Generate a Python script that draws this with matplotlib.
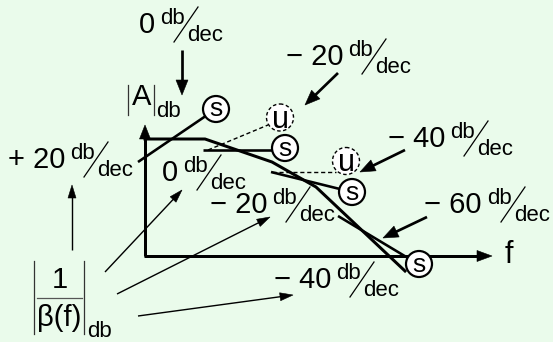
import matplotlib
matplotlib.use("Agg")
import matplotlib.pyplot as plt
from matplotlib.patches import Circle, Polygon
import numpy as np

W, H = 553, 342
BG = "#eafbeb"
FONT = "Liberation Sans"

# ---- diagram geometry (pixel space, y grows downward) ----
axis_origin = (145, 256)
y_axis_tip = (145, 125)
x_axis_tip = (492, 256)

# open-loop gain |A| asymptotes: 0, -20, -40, -60 dB/dec
gain_x = [145, 205, 272, 316, 405]
gain_y = [139, 139, 162, 187, 271]

# 1/beta feedback lines: start point and end point (at the marker)
beta_start = [(138, 162), (203, 150), (271, 172), (338, 216)]
beta_end = [(216, 109), (272, 150), (352, 192), (418, 264)]
stable_marks = [(216, 109), (285, 148), (352, 192), (419, 264)]

# dashed guides toward the unstable cases
dash_start = [(208, 150), (272, 172)]
dash_end = [(268, 125), (336, 172)]
unstable_marks = [(280, 117.5), (346, 161)]

# slope annotations: text, right edge of the number, baseline
slope_text = ["0", "\u2212 20", "\u2212 40", "\u2212 60", "+ 20", "0", "\u2212 20", "\u2212 40"]
slope_x = [155, 343, 445, 482, 65, 178, 267, 331]
slope_y = [33, 65, 147, 213, 168, 181, 213, 288]

# arrows from slope labels onto the gain curve
big_tail = [(182, 50), (338, 73), (405, 150), (427, 217)]
big_tip = [(182, 95), (305, 105), (360, 172), (383, 238)]

# arrows from the 1/beta label to its slope labels
thin_tail = [(72, 250), (105, 272), (117, 294), (138, 316)]
thin_tip = [(72, 185), (182, 190), (270, 217), (293, 295)]

PX = 0.72  # points per pixel at 100 dpi

fig = plt.figure(figsize=(W / 100, H / 100), dpi=100, facecolor=BG)
ax = fig.add_axes([0, 0, 1, 1])
ax.set_xlim(0, W)
ax.set_ylim(H, 0)
ax.axis("off")
ax.set_facecolor(BG)


def arrow(tail, tip, lw, hl, hw, z=3):
    tail = np.asarray(tail, float)
    tip = np.asarray(tip, float)
    d = tip - tail
    u = d / np.hypot(*d)
    n = np.array([-u[1], u[0]])
    base = tip - u * hl
    shaft_end = base + u * 1.0
    ax.plot([tail[0], shaft_end[0]], [tail[1], shaft_end[1]], color="k",
            lw=lw * PX, solid_capstyle="butt", zorder=z)
    ax.add_patch(Polygon([tip, base + n * hw / 2, base - n * hw / 2], closed=True,
                         fc="k", ec="k", lw=0.4, zorder=z))


def slope_label(txt, xr, yb):
    ax.text(xr, yb, txt, ha="right", va="baseline", fontsize=21, family=FONT, color="k")
    ax.text(xr + 5, yb - 9, "db", ha="left", va="baseline", fontsize=16, family=FONT, color="k")
    ax.plot([xr + 19, xr + 43], [yb + 9, yb - 26], color="k", lw=0.9, zorder=2)
    ax.text(xr + 32, yb + 8, "dec", ha="left", va="baseline", fontsize=16, family=FONT, color="k")


# axes of the Bode plot
arrow(axis_origin, y_axis_tip, 3.0, 14, 11, z=4)
arrow((axis_origin[0] - 1.5, axis_origin[1]), x_axis_tip, 3.0, 15, 11, z=4)
ax.text(505, 263, "f", ha="left", va="baseline", fontsize=22, family=FONT, color="k")

# |A| label
ax.plot([128, 128], [85, 115], color="#333", lw=0.9)
ax.plot([154, 154], [85, 115], color="#333", lw=0.9)
ax.text(141.5, 105, "A", ha="center", va="baseline", fontsize=21, family=FONT, color="k")
ax.text(156.5, 117, "db", ha="left", va="baseline", fontsize=16, family=FONT, color="k")

# gain curve
ax.plot(gain_x, gain_y, color="k", lw=3.0 * PX, solid_joinstyle="miter", zorder=5)

# 1/beta lines
for (x0, y0), (x1, y1) in zip(beta_start, beta_end):
    ax.plot([x0, x1], [y0, y1], color="k", lw=2.6 * PX, solid_capstyle="butt", zorder=5)

# dashed guides
for (x0, y0), (x1, y1) in zip(dash_start, dash_end):
    ax.plot([x0, x1], [y0, y1], color="k", lw=1.0, ls=(0, (3, 2)), zorder=5)

# markers
for cx, cy in stable_marks:
    ax.add_patch(Circle((cx, cy), 13, fc="white", ec="k", lw=2.2 * PX, zorder=6))
    ax.text(cx, cy + 7.5, "s", ha="center", va="baseline", fontsize=19, family=FONT,
            color="k", zorder=7)
for cx, cy in unstable_marks:
    ax.add_patch(Circle((cx, cy), 13.5, fc="white", ec="k", lw=1.0, ls=(0, (2.5, 1.8)), zorder=6))
    ax.text(cx, cy + 10, "u", ha="center", va="baseline", fontsize=22, family=FONT,
            color="k", zorder=7)

# slope labels
for t, xr, yb in zip(slope_text, slope_x, slope_y):
    slope_label(t, xr, yb)

# arrows
for tl, tp in zip(big_tail, big_tip):
    arrow(tl, tp, 2.7, 15, 12)
for tl, tp in zip(thin_tail, thin_tip):
    arrow(tl, tp, 1.4, 13, 8)

# |1/beta(f)| label
ax.plot([33.5, 33.5], [261, 334], color="#333", lw=0.9)
ax.plot([83.5, 83.5], [261, 334], color="#333", lw=0.9)
ax.text(60, 288, "1", ha="center", va="baseline", fontsize=21, family=FONT, color="k")
ax.plot([36.5, 81.5], [298, 298], color="#555", lw=0.9)
ax.text(59, 326, "\u03b2(f)", ha="center", va="baseline", fontsize=21, family=FONT, color="k")
ax.text(87, 337, "db", ha="left", va="baseline", fontsize=16, family=FONT, color="k")

fig.savefig("out.png", dpi=100, facecolor=BG)
